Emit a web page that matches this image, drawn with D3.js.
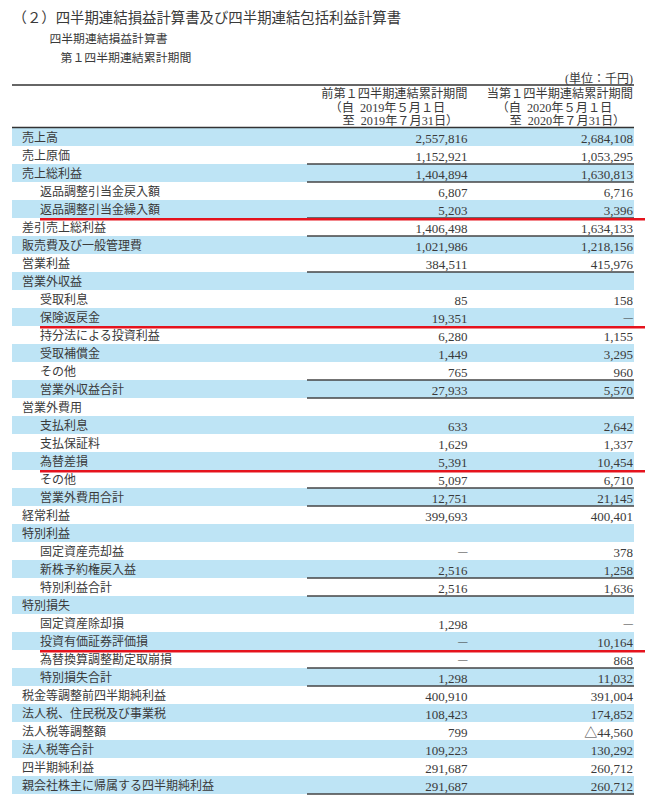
<!DOCTYPE html>
<html><head><meta charset="utf-8">
<script src="https://cdn.jsdelivr.net/npm/d3@7"></script>
<style>body{margin:0;background:#fff} svg{display:block}</style>
</head><body><svg id="c" width="646" height="800"></svg>
<script>
// ---------------- data ----------------
const titleText = "（２）四半期連結損益計算書及び四半期連結包括利益計算書";
const subtitleText = "四半期連結損益計算書";
const periodText = "第１四半期連結累計期間";
const unitText = "(単位：千円)";
const columnHeaders = [
  ["前第１四半期連結累計期間", "（自\u20022019年５月１日", "至\u20022019年７月31日）"],
  ["当第１四半期連結累計期間", "（自\u20022020年５月１日", "至\u20022020年７月31日）"]
];
const labels = [
  "売上高","売上原価","売上総利益","返品調整引当金戻入額","返品調整引当金繰入額",
  "差引売上総利益","販売費及び一般管理費","営業利益","営業外収益","受取利息",
  "保険返戻金","持分法による投資利益","受取補償金","その他","営業外収益合計",
  "営業外費用","支払利息","支払保証料","為替差損","その他",
  "営業外費用合計","経常利益","特別利益","固定資産売却益","新株予約権戻入益",
  "特別利益合計","特別損失","固定資産除却損","投資有価証券評価損","為替換算調整勘定取崩損",
  "特別損失合計","税金等調整前四半期純利益","法人税、住民税及び事業税","法人税等調整額","法人税等合計",
  "四半期純利益","親会社株主に帰属する四半期純利益"
];
const levels = [0,0,0,1,1, 0,0,0,0,1, 1,1,1,1,1, 0,1,1,1,1, 1,0,0,1,1, 1,0,1,1,1, 1,0,0,0,0, 0,0];
const B = "";   // blank (heading row)
const D = null; // dash
const prevValues = [
  2557816,1152921,1404894,6807,5203,
  1406498,1021986,384511,B,85,
  19351,6280,1449,765,27933,
  B,633,1629,5391,5097,
  12751,399693,B,D,2516,
  2516,B,1298,D,D,
  1298,400910,108423,799,109223,
  291687,291687
];
const currValues = [
  2684108,1053295,1630813,6716,3396,
  1634133,1218156,415976,B,158,
  D,1155,3295,960,5570,
  B,2642,1337,10454,6710,
  21145,400401,B,378,1258,
  1636,B,D,10164,868,
  11032,391004,174852,-44560,130292,
  260712,260712
];
// rows whose top edge carries a subtotal rule (index = labels.length means bottom of table)
const ruleRows = [2,3,5,6,8,14,15,20,21,25,26,30,31,37];
// rows underlined in red
const highlightRows = [4,10,18,28];

// ---------------- drawing ----------------
const svg = d3.select("#c");
const CJK = "'Noto Sans CJK JP', sans-serif";
const MIX = "'Liberation Serif', 'Noto Sans CJK JP', serif";
const ink = "#3a3a3a";

const tableLeft = 12, tableRight = 634;
const y = d3.scaleBand().domain(d3.range(labels.length)).range([128, 794]);
const rh = y.bandwidth();
const colRight = d3.scaleOrdinal().domain([0,1]).range([467.5, 633]);
const colLeft = 307;

// titles
svg.append("text").attr("x", 12.5).attr("y", 23).attr("font-family", CJK)
  .attr("font-size", 14.4).attr("fill", ink).text(titleText);
svg.append("text").attr("x", 49.5).attr("y", 43).attr("font-family", CJK)
  .attr("font-size", 11.8).attr("fill", ink).text(subtitleText);
svg.append("text").attr("x", 60.5).attr("y", 62).attr("font-family", CJK)
  .attr("font-size", 11.9).attr("fill", ink).text(periodText);
svg.append("text").attr("x", 633).attr("y", 82.5).attr("text-anchor", "end")
  .attr("font-family", MIX).attr("font-size", 12).attr("fill", ink).text(unitText);

// stripes
svg.append("g").selectAll("rect").data(labels.map((d,i)=>i).filter(i => i % 2 === 0))
  .join("rect")
  .attr("x", tableLeft).attr("width", tableRight - tableLeft)
  .attr("y", i => y(i)).attr("height", rh)
  .attr("fill", "#bee4f5");

// header rules
[85, 127.5].forEach(v => svg.append("line")
  .attr("x1", tableLeft).attr("x2", tableRight).attr("y1", v).attr("y2", v)
  .attr("stroke", "#333").attr("stroke-width", 1.4));

// column headers
const hdrBase = [98, 111.5, 125];
const hdrStarts = [[null, 329.5, 342.5], [null, 496.5, 509.5]];
columnHeaders.forEach((lines, c) => {
  lines.forEach((t, k) => {
    const el = svg.append("text").attr("y", hdrBase[k]).attr("font-family", MIX)
      .attr("font-size", 12.2).attr("fill", ink).text(t);
    if (k === 0) el.attr("x", colRight(c)).attr("text-anchor", "end");
    else el.attr("x", hdrStarts[c][k]);
  });
});

// labels
svg.append("g").selectAll("text").data(labels).join("text")
  .attr("x", (d,i) => levels[i] ? 40 : 22)
  .attr("y", (d,i) => y(i) + 14)
  .attr("font-family", CJK).attr("font-size", 12).attr("fill", ink)
  .text(d => d);

// values
const fmt = d3.format(",");
function fmtVal(v) {
  if (v === null) return "—";
  if (v === "") return "";
  return v < 0 ? "△" + fmt(-v) : fmt(v);
}
[prevValues, currValues].forEach((vals, c) => {
  svg.append("g").selectAll("text").data(vals).join("text")
    .attr("x", colRight(c))
    .attr("y", (d,i) => y(i) + (d === null ? 13 : 14.5))
    .attr("text-anchor", "end")
    .attr("font-family", MIX)
    .attr("font-size", d => d === null ? 9.5 : 13)
    .attr("fill", ink)
    .text(fmtVal);
});

// subtotal rules
svg.append("g").selectAll("line").data(ruleRows).join("line")
  .attr("x1", colLeft).attr("x2", tableRight)
  .attr("y1", r => (r < labels.length ? y(r) : y(labels.length - 1) + rh))
  .attr("y2", r => (r < labels.length ? y(r) : y(labels.length - 1) + rh))
  .attr("stroke", "#444").attr("stroke-width", 1.4);

// red highlight underlines
svg.append("g").selectAll("line").data(highlightRows).join("line")
  .attr("x1", 40).attr("x2", 645)
  .attr("y1", r => y(r) + rh + 1.2).attr("y2", r => y(r) + rh + 1.2)
  .attr("stroke", "#e5131d").attr("stroke-width", 2.5);
</script>
</body></html>
